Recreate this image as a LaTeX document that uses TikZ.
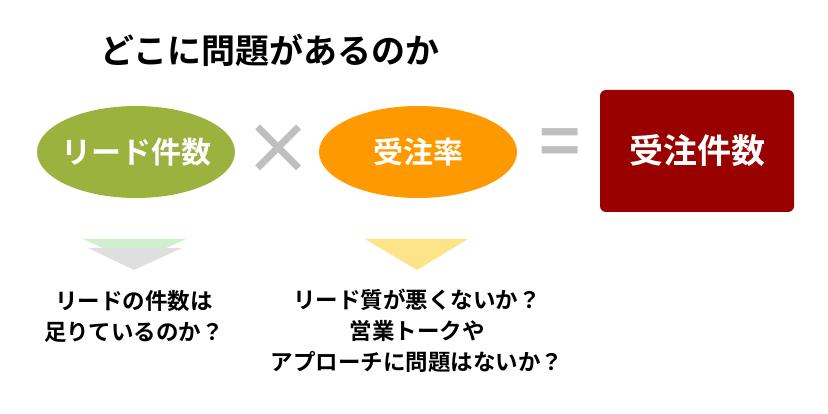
\documentclass[tikz,border=0pt]{standalone}
\usepackage{fontspec}
\setmainfont{Noto Sans CJK JP}[BoldFont={Noto Sans CJK JP Bold}]
\usetikzlibrary{shapes.geometric}
\definecolor{gr}{HTML}{9BB23F}
\definecolor{or}{HTML}{FF9900}
\definecolor{dr}{HTML}{990000}
\definecolor{gy}{HTML}{BFBFBF}
\begin{document}
\begin{tikzpicture}[x=1pt,y=-1pt,
  ell/.style={ellipse,inner sep=0,minimum width=198,minimum height=92},
  etxt/.style={text=white,font=\bfseries\fontsize{30}{34}\selectfont},
  lbl/.style={align=center,font=\bfseries\fontsize{22.5}{31}\selectfont}]
\useasboundingbox (0,0) rectangle (828,414);
\node[font=\bfseries\fontsize{34}{38}\selectfont] (title) at (270,50) {どこに問題があるのか};
\node[ell,fill=gr] (a) at (136,152) {};
\node[etxt] (at) at (a.center) {リード件数};
\node[ell,fill=or] (b) at (418,152) {};
\node[etxt] (bt) at (b.center) {受注率};
\node[rounded corners=6,fill=dr,minimum width=194,minimum height=122,text=white,font=\bfseries\fontsize{34}{38}\selectfont] (c) at (697,151) {受注件数};
\node[text=gy,font=\bfseries\fontsize{70}{70}\selectfont] (x) at (278,150) {×};
\node[text=gy,font=\bfseries\fontsize{70}{70}\selectfont] (eq) at (560,148) {=};
\fill[gray!25] (88,248) -- (182,248) -- (134,270) -- cycle;
\fill[green!50!gray!25] (83,239) -- (186,239) -- (166,248) -- (103,248) -- cycle;
\fill[yellow!60!orange!45] (365,239) -- (468,239) -- (417,270) -- cycle;
\node[lbl] (la) at (134,316) {リードの件数は\\足りているのか？};
\node[lbl] (lb) at (417,331) {リード質が悪くないか？\\営業トークや\\アプローチに問題はないか？};
\end{tikzpicture}
\end{document}
